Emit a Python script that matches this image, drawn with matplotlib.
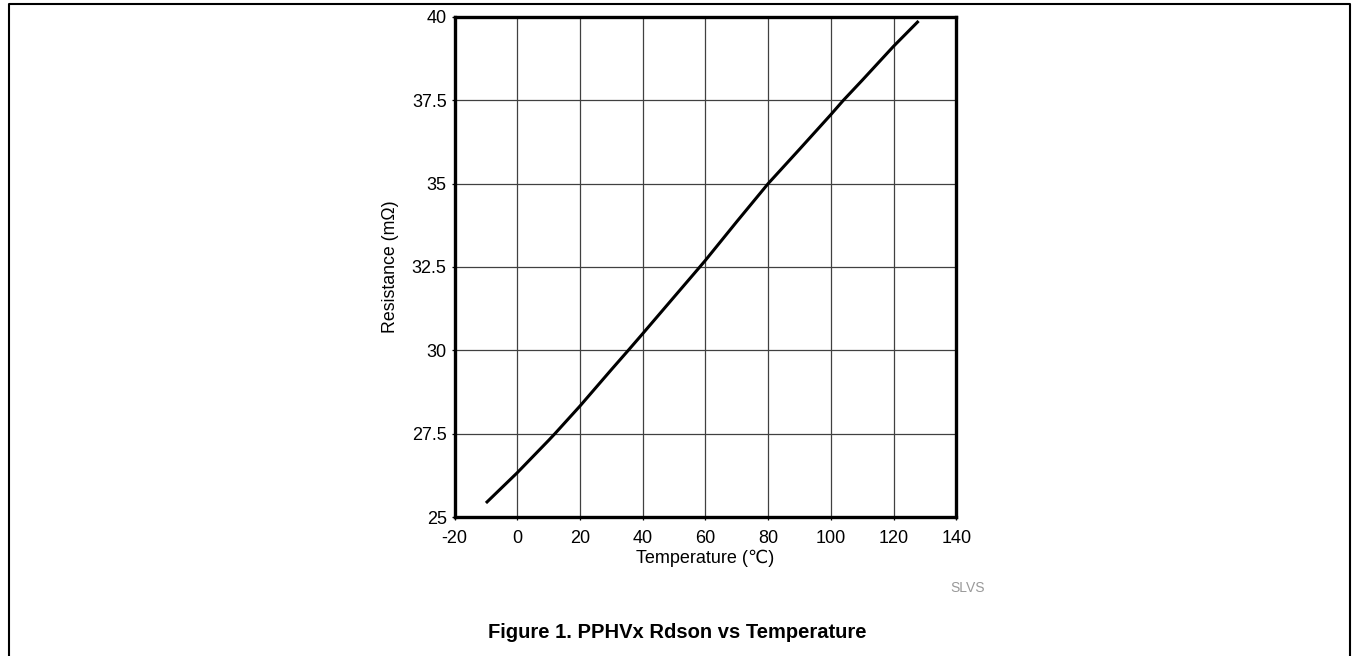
import numpy as np
import matplotlib
matplotlib.use('Agg')
import matplotlib.pyplot as plt
from matplotlib.lines import Line2D

plt.rcParams['font.family'] = ['Liberation Sans', 'DejaVu Sans']
plt.rcParams['axes.unicode_minus'] = False

# Rdson curve
temp = [-10, 0, 10, 12, 20, 30, 35.4, 40, 50, 58.2, 60, 70, 80, 90, 100, 104, 110, 120, 128]
res = [25.42, 26.33, 27.3, 27.5, 28.33, 29.42, 30.0, 30.5, 31.6, 32.5, 32.7, 33.86, 35.0, 36.03, 37.07, 37.5, 38.1, 39.12, 39.88]

xticks = [-20, 0, 20, 40, 60, 80, 100, 120, 140]
yticks = [25, 27.5, 30, 32.5, 35, 37.5, 40]
ytick_labels = ['25', '27.5', '30', '32.5', '35', '37.5', '40']

W, H = 1353, 656
fig = plt.figure(figsize=(W / 100, H / 100), dpi=100)
ax = fig.add_axes([454.6 / W, 1 - 517 / H, (956.2 - 454.6) / W, (517 - 17) / H])

ax.plot(temp, res, color='black', lw=2.2, solid_capstyle='butt', zorder=3)
ax.set_xlim(-20, 140)
ax.set_ylim(25, 40)
ax.set_xticks(xticks)
ax.set_yticks(yticks)
ax.set_yticklabels(ytick_labels)
ax.grid(True, color='#404040', lw=0.9)
for s in ax.spines.values():
    s.set_linewidth(2.4)
ax.tick_params(axis='both', direction='out', length=2.2, width=0.9, labelsize=13)
ax.tick_params(axis='x', pad=7)
ax.tick_params(axis='y', pad=3.5)
ax.set_xlabel('Temperature (\u2103)', fontsize=13, labelpad=2)
ax.set_ylabel('Resistance (m\u03a9)', fontsize=12.8, labelpad=9)

fig.text(968 / W, 1 - 588 / H, 'SLVS', fontsize=10, color='#999999', ha='center', va='center')
fig.text(677 / W, 1 - 633 / H, 'Figure 1. PPHVx Rdson vs Temperature', fontsize=14.5,
         fontweight='bold', ha='center', va='center')

# page frame (open at the bottom)
fx = [8.5 / W, 8.5 / W, 1349.5 / W, 1349.5 / W]
fy = [0, 1 - 3.5 / H, 1 - 3.5 / H, 0]
fig.add_artist(Line2D(fx, fy, transform=fig.transFigure, color='black', lw=1.5))

fig.savefig('out.png', dpi=100)
